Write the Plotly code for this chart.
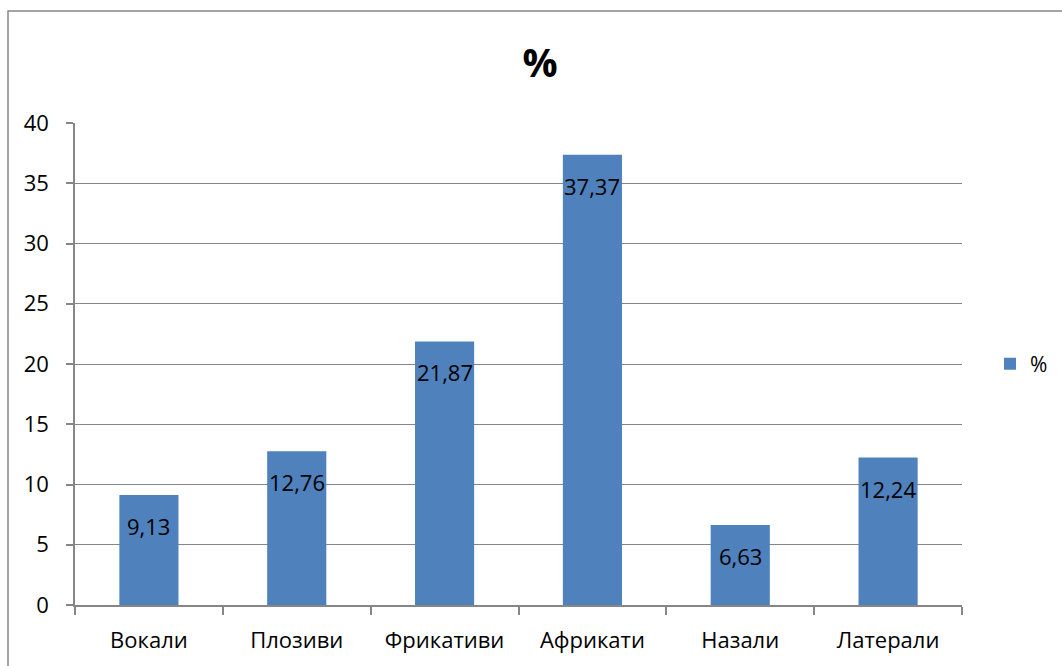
import plotly.graph_objects as go

categories = ["Вокали", "Плозиви", "Фрикативи", "Африкати", "Назали", "Латерали"]
values = [9.13, 12.76, 21.87, 37.37, 6.63, 12.24]
series_name = "%"
y_ticks = [0, 5, 10, 15, 20, 25, 30, 35, 40]

bar_color = "#4F81BD"
grid_color = "#868686"
font_family = "Open Sans, Liberation Sans, sans-serif"

W, H = 1062, 666
ML, MR, MT, MB = 75, 100, 123, 61
PW, PH = W - ML - MR, H - MT - MB

fig = go.Figure()
fig.add_trace(go.Bar(
    x=categories,
    y=values,
    name=series_name,
    marker=dict(color=bar_color, line=dict(width=0)),
    showlegend=True,
))

# value labels inside the top of each bar, decimal comma
for c, v in zip(categories, values):
    fig.add_annotation(
        x=c, y=v, xref="x", yref="y",
        text=f"{v:.2f}".replace(".", ","),
        showarrow=False, yanchor="middle", yshift=-31,
        font=dict(family=font_family, size=22, color="#000000"),
    )

# outer chart border (left and top edges visible, rest runs off the page)
fig.add_shape(type="rect", xref="paper", yref="paper",
              x0=(8 - ML) / PW, x1=(W + 20 - ML) / PW,
              y0=(H - MB - 11) / PH, y1=-(MB + 20) / PH,
              line=dict(color="#868686", width=1.5), layer="below")

fig.update_layout(
    width=W, height=H,
    margin=dict(l=ML, r=MR, t=MT, b=MB, autoexpand=False),
    paper_bgcolor="white", plot_bgcolor="white",
    bargap=0.6,
    font=dict(family=font_family, size=22, color="#000000"),
    title=dict(text="<b>%</b>", x=540 / W, xref="container", xanchor="center",
               y=1 - 63 / H, yanchor="middle",
               font=dict(family=font_family, size=39, color="#000000")),
    legend=dict(xref="container", x=990 / W, y=0.5, xanchor="left", yanchor="middle",
                font=dict(size=21), itemwidth=30),
    xaxis=dict(
        type="category", range=[-0.5, 5.5],
        showline=True, linecolor=grid_color, linewidth=1.5,
        ticks="outside", tickson="boundaries", ticklen=8, tickcolor=grid_color,
        tickwidth=1.5, showgrid=False, ticklabelstandoff=15,
        tickfont=dict(size=22),
    ),
    yaxis=dict(
        range=[0, 40], tickvals=y_ticks,
        showline=True, linecolor=grid_color, linewidth=1.5,
        ticks="outside", ticklen=7, tickcolor=grid_color, tickwidth=1.5,
        showgrid=True, gridcolor=grid_color, gridwidth=1,
        zeroline=False, ticklabelstandoff=13,
        tickfont=dict(size=22),
    ),
)

fig.write_html("out.html")
